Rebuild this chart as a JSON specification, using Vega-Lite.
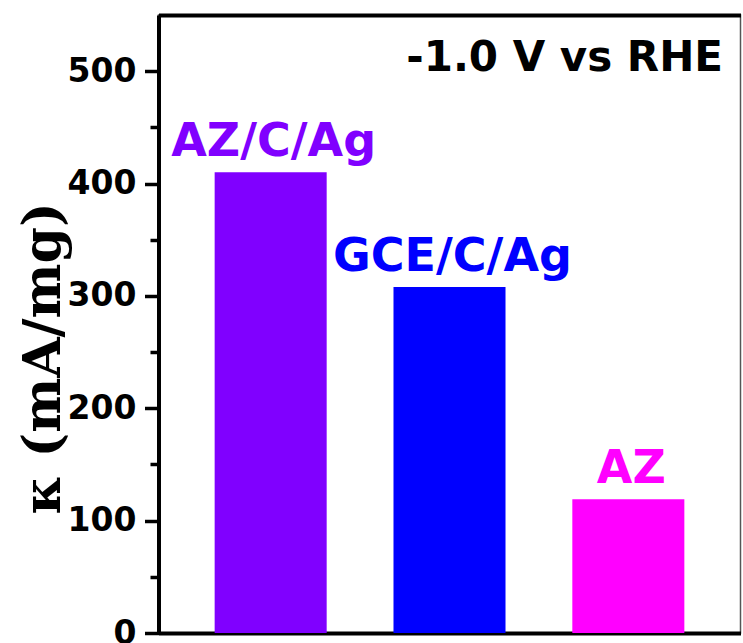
{
  "$schema": "https://vega.github.io/schema/vega-lite/v6.json",
  "width": 582,
  "height": 618,
  "autosize": {"type": "none"},
  "padding": {"left": 158.5, "top": 15, "right": 2.5, "bottom": 10},
  "background": "white",
  "config": {
    "view": {"stroke": "#555555", "strokeWidth": 1.5},
    "axis": {"domainColor": "black", "tickColor": "black", "labelColor": "black", "grid": false}
  },
  "title": {
    "text": "-1.0 V vs RHE",
    "orient": "top",
    "anchor": "end",
    "frame": "group",
    "baseline": "alphabetic",
    "offset": 0,
    "dx": -17.5,
    "dy": 98,
    "font": "DejaVu Sans",
    "fontSize": 42,
    "fontWeight": "bold",
    "color": "black"
  },
  "data": {
    "values": [
      {"sample": "AZ/C/Ag", "kappa": 410},
      {"sample": "GCE/C/Ag", "kappa": 308},
      {"sample": "AZ", "kappa": 119}
    ]
  },
  "resolve": {"axis": {"x": "independent", "y": "independent"}},
  "layer": [
    {
      "mark": {"type": "bar"},
      "encoding": {
        "x": {
          "field": "sample", "type": "nominal", "sort": null,
          "scale": {"paddingInner": 0.3736, "paddingOuter": 0.314},
          "axis": {"orient": "bottom", "title": null, "labels": false, "ticks": false, "domainWidth": 4}
        },
        "y": {
          "field": "kappa", "type": "quantitative",
          "scale": {"domain": [0, 550], "nice": false, "zero": true},
          "axis": {
            "orient": "left",
            "values": [0, 100, 200, 300, 400, 500],
            "domainWidth": 4,
            "tickSize": 14,
            "tickWidth": 3.5,
            "labelPadding": 8.5,
            "labelFont": "DejaVu Sans",
            "labelFontWeight": "bold",
            "labelFontSize": 33,
            "labelBaseline": "middle",
            "title": "κ (mA/mg)",
            "titleFont": "DejaVu Serif",
            "titleFontWeight": "bold",
            "titleFontSize": 52,
            "titleColor": "black",
            "titleAngle": 270,
            "titleAlign": "center",
            "titleBaseline": "middle",
            "titleX": -115,
            "titleY": 343
          }
        },
        "color": {
          "field": "sample", "type": "nominal",
          "scale": {"domain": ["AZ/C/Ag", "GCE/C/Ag", "AZ"], "range": ["#8000FF", "#0000FF", "#FF00FF"]},
          "legend": null
        }
      }
    },
    {
      "mark": {"type": "text", "dy": -16, "dx": 3, "baseline": "alphabetic", "align": "center", "font": "DejaVu Sans", "fontWeight": "bold", "fontSize": 46},
      "encoding": {
        "x": {
          "field": "sample", "type": "nominal", "sort": null,
          "axis": {"orient": "top", "title": null, "labels": false, "ticks": false, "domainWidth": 4}
        },
        "y": {
          "field": "kappa", "type": "quantitative",
          "axis": {
            "orient": "left",
            "values": [50, 150, 250, 350, 450],
            "domain": false,
            "labels": false,
            "tickSize": 8.5,
            "tickWidth": 3.5,
            "title": null
          }
        },
        "text": {"field": "sample"},
        "color": {"field": "sample", "type": "nominal", "legend": null}
      }
    }
  ]
}
